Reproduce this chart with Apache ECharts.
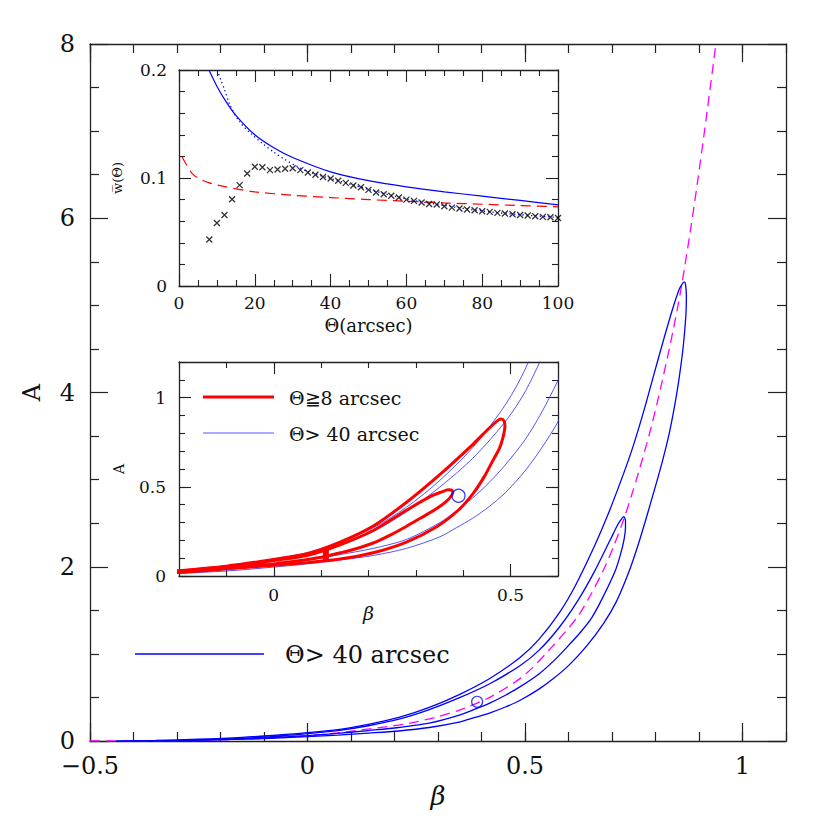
<!DOCTYPE html>
<html><head><meta charset="utf-8">
<script src="https://cdn.jsdelivr.net/npm/echarts@6/dist/echarts.min.js"></script>
<style>html,body{margin:0;padding:0;background:#fff}#c{width:830px;height:830px}</style>
</head><body><div id="c"></div>
<script>
// ---------- Main panel: A vs beta ----------
const magentaBeta = [-0.5,-0.3,-0.1,0.0,0.08,0.16,0.233,0.3,0.36,0.424,0.497,0.562,0.62,0.65,0.682,0.705,0.726,0.745,0.762,0.79,0.814,0.84,0.859,0.88,0.897,0.918,0.938,0.945];
const magentaA    = [0.0,0.005,0.03,0.06,0.1,0.15,0.203,0.28,0.375,0.515,0.75,1.08,1.42,1.67,1.98,2.25,2.53,2.82,3.1,3.6,4.1,4.7,5.2,5.85,6.43,7.2,7.97,8.25];

const outerBeta = [-0.44,-0.35,-0.25,-0.15,-0.05,0.0,0.07,0.14,0.21,0.28,0.35,0.42,0.49,0.532,0.58,0.616,0.66,0.69,0.726,0.749,0.775,0.797,0.82,0.84,0.855,0.862,0.866,0.869,0.871,0.87,0.867,0.862,0.853,0.843,0.832,0.822,0.811,0.795,0.78,0.76,0.738,0.71,0.68,0.64,0.6,0.566,0.532,0.49,0.455,0.42,0.385,0.351,0.28,0.21,0.14,0.07,0.0,-0.1,-0.2,-0.3,-0.44];
const outerA    = [0.0,0.006,0.02,0.042,0.075,0.095,0.13,0.19,0.27,0.385,0.535,0.72,0.965,1.167,1.48,1.785,2.24,2.59,3.06,3.39,3.82,4.22,4.63,4.97,5.19,5.25,5.27,5.24,5.1,4.9,4.7,4.45,4.12,3.82,3.54,3.33,3.12,2.84,2.58,2.25,1.93,1.6,1.345,1.08,0.865,0.72,0.595,0.47,0.39,0.324,0.27,0.22,0.155,0.115,0.09,0.068,0.05,0.028,0.015,0.006,0.0];

const innerBeta = [-0.3,-0.2,-0.1,0.0,0.07,0.14,0.21,0.28,0.351,0.42,0.49,0.532,0.578,0.62,0.658,0.698,0.714,0.722,0.727,0.731,0.731,0.728,0.72,0.708,0.68,0.654,0.627,0.6,0.566,0.532,0.49,0.455,0.42,0.385,0.351,0.28,0.21,0.14,0.07,0.0,-0.1,-0.2,-0.3];
const innerA    = [0.008,0.02,0.045,0.085,0.12,0.175,0.25,0.36,0.5,0.66,0.87,1.04,1.3,1.6,1.93,2.33,2.49,2.55,2.575,2.53,2.45,2.32,2.15,1.96,1.66,1.42,1.245,1.096,0.92,0.77,0.627,0.525,0.438,0.365,0.3,0.205,0.155,0.12,0.088,0.062,0.036,0.016,0.008];

const circleBeta = [0.39];
const circleA    = [0.45];

// ---------- Inset 1: w(theta) ----------
const crossTheta = [8,10,12,14,16,18,20,22,24,26,28,30,32,34,36,38,40,42,44,46,48,50,52,54,56,58,60,62,64,66,68,70,72,74,76,78,80,82,84,86,88,90,92,94,96,98,100];
const crossW     = [0.043,0.0584,0.0658,0.0804,0.0934,0.1042,0.1104,0.110,0.1073,0.1079,0.1085,0.109,0.1073,0.1051,0.103,0.101,0.0995,0.0974,0.0955,0.093,0.0915,0.089,0.0866,0.085,0.0835,0.0819,0.080,0.0788,0.0773,0.076,0.0754,0.0739,0.0726,0.0717,0.0708,0.0702,0.0692,0.0686,0.0677,0.0671,0.0665,0.0658,0.0652,0.0646,0.064,0.0637,0.063];

const solidTheta = [7.9,10,12,15,20,25,30,40,50,60,70,80,90,100];
const solidW     = [0.2,0.185,0.173,0.158,0.140,0.128,0.119,0.1057,0.0975,0.0918,0.0872,0.0832,0.0792,0.0751];

const dotTheta = [10.1,11,12,13.4,16,19,22,25,28,31,34,40,50,60,70,80,90,100];
const dotW     = [0.2,0.191,0.182,0.168,0.152,0.141,0.132,0.124,0.117,0.111,0.106,0.0995,0.0895,0.0805,0.0745,0.0695,0.066,0.0635];

const redDashTheta = [0.8,2,3.5,5,8,12,20,30,40,50,60,70,80,90,100];
const redDashW     = [0.1196,0.112,0.104,0.1,0.0955,0.092,0.0872,0.084,0.0819,0.080,0.0785,0.077,0.0757,0.0745,0.0733];

// ---------- Inset 2: zoom of A vs beta ----------
const redOuterBeta = [-0.25,-0.2,-0.1,0.0,0.07,0.14,0.21,0.281,0.351,0.421,0.455,0.472,0.48,0.486,0.488,0.485,0.477,0.463,0.445,0.421,0.39,0.344,0.28,0.21,0.14,0.07,0.0,-0.1,-0.2,-0.25];
const redOuterA    = [0.02,0.03,0.055,0.093,0.125,0.19,0.28,0.415,0.57,0.74,0.83,0.87,0.88,0.87,0.84,0.79,0.72,0.65,0.56,0.463,0.37,0.276,0.19,0.13,0.095,0.075,0.06,0.04,0.02,0.012];

const redInnerBeta = [-0.25,-0.2,-0.1,0.0,0.07,0.14,0.21,0.281,0.33,0.355,0.368,0.375,0.378,0.375,0.365,0.345,0.32,0.3,0.281,0.25,0.21,0.17,0.14,0.1,0.07,0.0,-0.1,-0.2,-0.25];
const redInnerA    = [0.018,0.027,0.05,0.087,0.115,0.175,0.255,0.37,0.445,0.472,0.483,0.482,0.47,0.45,0.42,0.38,0.34,0.31,0.28,0.235,0.185,0.15,0.13,0.105,0.092,0.068,0.045,0.024,0.015];

const redBarBeta = [0.11,0.11];
const redBarA    = [0.088,0.15];

// tick labels
const mainXLabels = [-0.5,0,0.5,1];
const mainYLabels = [0,2,4,6,8];
const in1XLabels = [0,20,40,60,80,100];
const in1YLabels = [0,0.1,0.2];
const in2XLabels = [0,0.5];
const in2YLabels = [0,0.5,1];

const zip = (a,b) => a.map((v,i)=>[v,b[i]]);

const AX = '#222';
const SERIF = '"DejaVu Serif", serif';
const fmt = v => (v < 0 ? '\u2212' + Math.abs(v) : String(v));

function ax(o) {
  return Object.assign({
    type:'value', splitLine:{show:false},
    axisLine:{show:true, onZero:false, lineStyle:{color:AX, width:1.3}},
    axisTick:{show:true, inside:true, lineStyle:{color:AX, width:1.2}},
    axisLabel:{show:false},
    minorTick:{show:false}
  }, o);
}

const chart = echarts.init(document.getElementById('c'), null, {renderer:'svg'});

const xAxes = [
  // main (0..3)
  ax({gridIndex:0, position:'bottom', min:-0.5, max:1.1, interval:0.1,
    axisTick:{show:true, inside:true, length:9, lineStyle:{color:AX,width:1.2}},
    axisLabel:{show:true, customValues:mainXLabels, formatter:fmt, fontFamily:SERIF, fontSize:24, lineHeight:22, color:'#111', margin:14},
    name:'\u03b2', nameLocation:'middle', nameGap:38, nameTextStyle:{fontFamily:SERIF, fontSize:26, fontStyle:'italic', color:'#111'}}),
  ax({gridIndex:0, position:'bottom', min:-0.5, max:1.1, axisLine:{show:false, onZero:false},
    axisTick:{show:true, inside:true, length:18, customValues:mainXLabels, lineStyle:{color:AX,width:1.2}}}),
  ax({gridIndex:0, position:'top', min:-0.5, max:1.1, interval:0.1,
    axisTick:{show:true, inside:true, length:9, lineStyle:{color:AX,width:1.2}}}),
  ax({gridIndex:0, position:'top', min:-0.5, max:1.1, axisLine:{show:false, onZero:false},
    axisTick:{show:true, inside:true, length:18, customValues:mainXLabels, lineStyle:{color:AX,width:1.2}}}),
  // inset 1 (4..5)
  ax({gridIndex:1, position:'bottom', min:0, max:100, interval:20,
    axisTick:{show:true, inside:true, length:12, lineStyle:{color:AX,width:1.1}},
    minorTick:{show:true, splitNumber:4, length:6, lineStyle:{color:AX,width:1.1}},
    axisLabel:{show:true, customValues:in1XLabels, fontFamily:SERIF, fontSize:17, color:'#111', margin:8},
    name:'\u0398(arcsec)', nameLocation:'middle', nameGap:30, nameTextStyle:{fontFamily:SERIF, fontSize:18, color:'#111'}}),
  ax({gridIndex:1, position:'top', min:0, max:100, interval:20,
    axisTick:{show:true, inside:true, length:12, lineStyle:{color:AX,width:1.1}},
    minorTick:{show:true, splitNumber:4, length:6, lineStyle:{color:AX,width:1.1}}}),
  // inset 2 (6..9)
  ax({gridIndex:2, position:'bottom', min:-0.2, max:0.6, interval:0.1,
    axisTick:{show:true, inside:true, length:6, lineStyle:{color:AX,width:1.1}},
    axisLabel:{show:true, customValues:in2XLabels, fontFamily:SERIF, fontSize:17, color:'#111', margin:10},
    name:'\u03b2', nameLocation:'middle', nameGap:14, nameTextStyle:{fontFamily:SERIF, fontSize:19, fontStyle:'italic', color:'#111'}}),
  ax({gridIndex:2, position:'bottom', min:-0.2, max:0.6, axisLine:{show:false, onZero:false},
    axisTick:{show:true, inside:true, length:12, customValues:in2XLabels, lineStyle:{color:AX,width:1.1}}}),
  ax({gridIndex:2, position:'top', min:-0.2, max:0.6, interval:0.1,
    axisTick:{show:true, inside:true, length:6, lineStyle:{color:AX,width:1.1}}}),
  ax({gridIndex:2, position:'top', min:-0.2, max:0.6, axisLine:{show:false, onZero:false},
    axisTick:{show:true, inside:true, length:12, customValues:in2XLabels, lineStyle:{color:AX,width:1.1}}})
];

const yAxes = [
  // main (0..1)
  ax({gridIndex:0, position:'left', min:0, max:8, interval:2,
    axisTick:{show:true, inside:true, length:18, lineStyle:{color:AX,width:1.2}},
    minorTick:{show:true, splitNumber:4, length:9, lineStyle:{color:AX,width:1.2}},
    axisLabel:{show:true, customValues:mainYLabels, fontFamily:SERIF, fontSize:24, lineHeight:22, color:'#111', margin:15},
    name:'A', nameLocation:'middle', nameGap:46, nameRotate:90, nameTextStyle:{fontFamily:SERIF, fontSize:24, color:'#111'}}),
  ax({gridIndex:0, position:'right', min:0, max:8, interval:2,
    axisTick:{show:true, inside:true, length:18, lineStyle:{color:AX,width:1.2}},
    minorTick:{show:true, splitNumber:4, length:9, lineStyle:{color:AX,width:1.2}}}),
  // inset 1 (2..3)
  ax({gridIndex:1, position:'left', min:0, max:0.2, interval:0.1,
    axisTick:{show:true, inside:true, length:12, lineStyle:{color:AX,width:1.1}},
    minorTick:{show:true, splitNumber:5, length:6, lineStyle:{color:AX,width:1.1}},
    axisLabel:{show:true, customValues:in1YLabels, fontFamily:SERIF, fontSize:17, color:'#111', margin:12},
    name:'w\u0305(\u0398)', nameLocation:'middle', nameGap:55, nameRotate:90, nameTextStyle:{fontFamily:SERIF, fontSize:13, color:'#111'}}),
  ax({gridIndex:1, position:'right', min:0, max:0.2, interval:0.1,
    axisTick:{show:true, inside:true, length:12, lineStyle:{color:AX,width:1.1}},
    minorTick:{show:true, splitNumber:5, length:6, lineStyle:{color:AX,width:1.1}}}),
  // inset 2 (4..7)
  ax({gridIndex:2, position:'left', min:0, max:1.2, interval:0.1,
    axisTick:{show:true, inside:true, length:6, lineStyle:{color:AX,width:1.1}},
    axisLabel:{show:true, customValues:in2YLabels, fontFamily:SERIF, fontSize:17, color:'#111', margin:13},
    name:'A', nameLocation:'middle', nameGap:53, nameRotate:90, nameTextStyle:{fontFamily:SERIF, fontSize:14, color:'#111'}}),
  ax({gridIndex:2, position:'left', min:0, max:1.2, axisLine:{show:false, onZero:false},
    axisTick:{show:true, inside:true, length:12, customValues:in2YLabels, lineStyle:{color:AX,width:1.1}}}),
  ax({gridIndex:2, position:'right', min:0, max:1.2, interval:0.1,
    axisTick:{show:true, inside:true, length:6, lineStyle:{color:AX,width:1.1}}}),
  ax({gridIndex:2, position:'right', min:0, max:1.2, axisLine:{show:false, onZero:false},
    axisTick:{show:true, inside:true, length:12, customValues:in2YLabels, lineStyle:{color:AX,width:1.1}}})
];

function line(name, xi, yi, data, style, z, smooth) {
  return {name, type:'line', xAxisIndex:xi, yAxisIndex:yi, data, symbol:'none',
    smooth: smooth === undefined ? 0.3 : smooth,
    lineStyle:style, clip:true, silent:true, z:z||2, animation:false};
}

const series = [
  // main
  line('magenta', 0, 0, zip(magentaBeta, magentaA), {color:'#ff00ff', width:1.3, type:[10,6]}),
  line('outer', 0, 0, zip(outerBeta, outerA), {color:'#0000ff', width:1.3}),
  line('inner', 0, 0, zip(innerBeta, innerA), {color:'#0000ff', width:1.3}),
  {type:'scatter', xAxisIndex:0, yAxisIndex:0, data:zip(circleBeta, circleA), symbol:'circle', symbolSize:11,
    itemStyle:{color:'rgba(0,0,0,0)', borderColor:'#0000ff', borderWidth:1.2}, silent:true, animation:false},
  // inset 1
  line('solid', 4, 2, zip(solidTheta, solidW), {color:'#0000ff', width:1.2}),
  line('dotted', 4, 2, zip(dotTheta, dotW), {color:'#0000ff', width:1.3, type:[1.3,3]}),
  line('reddash', 4, 2, zip(redDashTheta, redDashW), {color:'#ff0000', width:1.2, type:[10,6]}),
  {type:'scatter', xAxisIndex:4, yAxisIndex:2, data:zip(crossTheta, crossW), symbol:'path://M0 0L10 10M10 0L0 10', symbolSize:6,
    itemStyle:{color:'rgba(0,0,0,0)', borderColor:'#000', borderWidth:1.3}, silent:true, animation:false, z:4},
  // inset 2
  line('blueOuter2', 6, 4, zip(outerBeta, outerA), {color:'#2a2aff', width:0.8}),
  line('blueInner2', 6, 4, zip(innerBeta, innerA), {color:'#2a2aff', width:0.8}),
  line('redOuter', 6, 4, zip(redOuterBeta, redOuterA), {color:'#ff0000', width:3, join:'round'}, 3),
  line('redInner', 6, 4, zip(redInnerBeta, redInnerA), {color:'#ff0000', width:3, join:'round'}, 3),
  line('redBar', 6, 4, zip(redBarBeta, redBarA), {color:'#ff0000', width:6}, 3, false),
  {type:'scatter', xAxisIndex:6, yAxisIndex:4, data:zip(circleBeta, circleA), symbol:'circle', symbolSize:13,
    itemStyle:{color:'rgba(0,0,0,0)', borderColor:'#0000ff', borderWidth:1.2}, silent:true, animation:false, z:4}
];

const graphic = [
  {type:'line', shape:{x1:135, y1:654, x2:264, y2:654}, style:{stroke:'#0000ff', lineWidth:1.5}},
  {type:'text', x:285, y:655, style:{text:'\u0398> 40 arcsec', font:'24px "DejaVu Serif"', fill:'#111', verticalAlign:'middle'}},
  {type:'line', shape:{x1:203, y1:397, x2:274, y2:397}, style:{stroke:'#ff0000', lineWidth:3}, z:10},
  {type:'text', x:289, y:398, style:{text:'\u0398\u22678 arcsec', font:'19px "DejaVu Serif"', fill:'#111', verticalAlign:'middle'}, z:10},
  {type:'line', shape:{x1:203, y1:433, x2:274, y2:433}, style:{stroke:'#2a2aff', lineWidth:0.8}, z:10},
  {type:'text', x:289, y:434, style:{text:'\u0398> 40 arcsec', font:'19px "DejaVu Serif"', fill:'#111', verticalAlign:'middle'}, z:10}
];

chart.setOption({
  backgroundColor:'#fff',
  animation:false,
  grid:[
    {left:90, top:44, width:696, height:697, show:false},
    {left:179, top:70, width:379, height:216, show:true, backgroundColor:'#fff', borderWidth:0},
    {left:179, top:362, width:379, height:214, show:true, backgroundColor:'#fff', borderWidth:0}
  ],
  xAxis:xAxes,
  yAxis:yAxes,
  series:series,
  graphic:graphic
});
</script></body></html>
